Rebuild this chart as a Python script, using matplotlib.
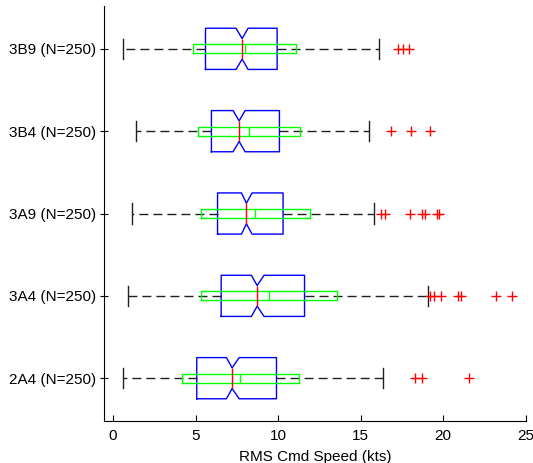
import matplotlib
matplotlib.use("Agg")
import matplotlib.pyplot as plt

plt.rcParams['font.family'] = ['Liberation Sans', 'DejaVu Sans']

# categories, bottom to top
labels = ['2A4 (N=250)', '3A4 (N=250)', '3A9 (N=250)', '3B4 (N=250)', '3B9 (N=250)']

# notched box (blue)
whislo = [0.61, 0.91, 1.13, 1.36, 0.61]
q1 = [5.07, 6.55, 6.33, 5.96, 5.60]
med = [7.21, 8.73, 8.08, 7.64, 7.82]
q3 = [9.90, 11.60, 10.30, 10.08, 9.94]
whishi = [16.36, 19.09, 15.80, 15.52, 16.12]
notch_lo = [6.87, 8.38, 7.78, 7.27, 7.45]
notch_hi = [7.64, 9.15, 8.42, 8.00, 8.18]

# overlaid thin box (green)
green_lo = [4.20, 5.30, 5.30, 5.15, 4.87]
green_mid = [7.72, 9.42, 8.60, 8.22, 8.02]
green_hi = [11.25, 13.54, 11.96, 11.32, 11.11]

# outliers
outliers = [
    [18.28, 18.69, 21.56],
    [19.19, 19.46, 19.88, 20.91, 21.07, 23.19, 24.20],
    [16.22, 16.47, 17.98, 18.69, 18.89, 19.64, 19.75],
    [16.81, 18.08, 19.19],
    [17.24, 17.58, 17.92],
]

positions = list(range(1, len(labels) + 1))

fig = plt.figure(figsize=(5.33, 4.63), dpi=100)
ax = fig.add_axes([0.1951, 0.0907, 0.7912, 0.8963])

stats = []
for i in range(len(labels)):
    stats.append(dict(whislo=whislo[i], q1=q1[i], med=med[i], q3=q3[i],
                      whishi=whishi[i], cilo=notch_lo[i], cihi=notch_hi[i],
                      fliers=outliers[i], label=labels[i]))

res = ax.bxp(stats, positions=positions, vert=False, widths=0.5, capwidths=0.25,
             shownotches=True, showfliers=True,
             boxprops=dict(color='blue', linewidth=1.0),
             whiskerprops=dict(color='#202020', linewidth=1.0, linestyle='--'),
             capprops=dict(color='#202020', linewidth=1.0),
             medianprops=dict(color='red', linewidth=1.0, zorder=5),
             flierprops=dict(marker='+', markeredgecolor='red', markersize=7,
                             markeredgewidth=1.0, linestyle='none'))
for ln in res['whiskers']:
    ln.set_dashes([6.5, 3.6])

gstats = []
for i in range(len(labels)):
    gstats.append(dict(whislo=green_lo[i], q1=green_lo[i], med=green_mid[i],
                       q3=green_hi[i], whishi=green_hi[i], fliers=[], label=''))
ax.bxp(gstats, positions=positions, vert=False, widths=0.11,
       showcaps=False, showfliers=False, manage_ticks=False,
       boxprops=dict(color='#00ff00', linewidth=1.0),
       whiskerprops=dict(linewidth=0),
       medianprops=dict(color='#00ff00', linewidth=1.0, zorder=4))

ax.set_xlim(-0.55, 25)
ax.set_ylim(0.48, 5.52)
ax.set_yticks(positions)
ax.set_yticklabels(labels)
ax.set_xticks([0, 5, 10, 15, 20, 25])
ax.set_xlabel('RMS Cmd Speed (kts)', fontsize=11, labelpad=5)
ax.tick_params(axis='x', direction='in', length=4, labelsize=11, pad=6)
ax.tick_params(axis='y', direction='inout', length=6, labelsize=11, pad=3)
for s in ['top', 'right']:
    ax.spines[s].set_visible(False)

fig.savefig('out.png', dpi=100)
